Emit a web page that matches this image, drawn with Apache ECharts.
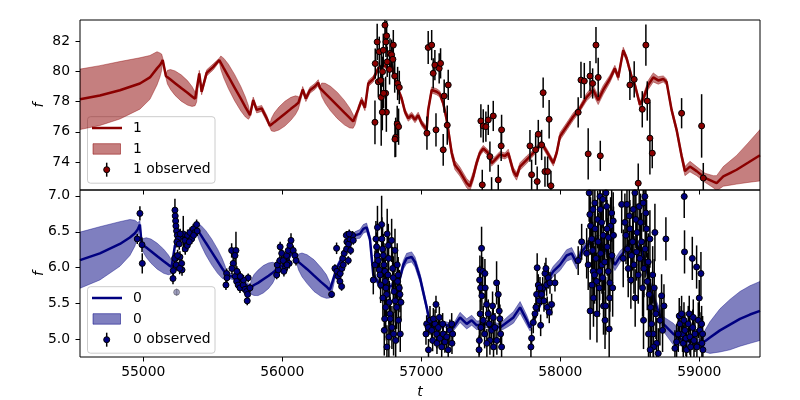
<!DOCTYPE html>
<html><head><meta charset="utf-8">
<script src="https://cdn.jsdelivr.net/npm/echarts@6/dist/echarts.min.js"></script>
<style>html,body{margin:0;padding:0;background:#fff}#c{width:800px;height:400px}</style>
</head><body><div id="c"></div>
<script>
// ---------- channel "1" (top panel): GP mean [t, mean, sd] ----------
const mean1 = [
[54545,78.15,2.0],[54688,78.4,1.98],[54832,78.75,1.9],[54976,79.2,1.7],[55048,79.6,1.45],[55099,80.2,1.1],[55120,80.42,0.8],[55132,80.6,0.55],[55140,80.75,0.15],
[55163,79.7,0.12],[55174,79.62,0.45],[55196,79.46,0.66],[55229,79.22,0.81],[55273,78.9,0.87],[55318,78.58,0.81],[55351,78.34,0.66],[55373,78.18,0.45],
[55384,78.1,0.12],[55403,79.87,0.2],[55420,78.65,0.2],[55456,79.9,0.2],[55504,80.3,0.2],
[55547,80.75,0.12],[55558,80.57,0.45],[55580,80.2,0.66],[55613,79.66,0.81],[55657,78.93,0.87],[55702,78.19,0.81],[55735,77.64,0.66],[55757,77.28,0.45],
[55768,77.1,0.12],[55791,78.1,0.2],[55816,77.45,0.2],[55852,77.55,0.2],[55888,76.9,0.2],
[55911,76.4,0.12],[55922,76.48,0.42],[55943,76.64,0.62],[55976,76.88,0.76],[56019,77.2,0.82],[56062,77.52,0.76],[56095,77.76,0.62],[56116,77.92,0.42],
[56127,78.0,0.12],[56147,78.8,0.2],[56170,78.2,0.2],[56199,78.75,0.2],[56235,79.0,0.2],[56259,79.25,0.2],
[56271,78.9,0.12],[56284,78.78,0.45],[56309,78.55,0.66],[56347,78.2,0.81],[56397,77.74,0.87],[56447,77.27,0.81],[56485,76.92,0.66],[56510,76.69,0.45],
[56523,76.57,0.12],[56547,77.5,0.2],[56571,78.1,0.2],[56595,77.6,0.2],[56619,79.2,0.2],[56655,79.5,0.2],[56691,80.2,0.15],[56715,80.3,0.15],
[56739,80.4,0.15],[56763,80.1,0.15],[56787,80.5,0.15],[56811,79.5,0.2],[56834,78.77,0.2],[56859,78.2,0.2],[56883,77.33,0.2],[56906,76.9,0.2],
[56931,77.1,0.2],[56955,76.8,0.2],[56978,77.1,0.2],[57003,76.57,0.2],[57039,76.13,0.2],[57050,77.45,0.2],[57075,78.77,0.2],[57111,78.65,0.2],
[57134,78.5,0.2],[57158,77.9,0.2],[57183,76.8,0.25],[57219,74.6,0.3],[57242,73.8,0.3],[57278,73.37,0.3],[57327,72.6,0.3],[57350,72.4,0.3],
[57374,73.05,0.3],[57398,73.93,0.25],[57422,74.6,0.2],[57446,74.9,0.2],[57482,74.6,0.2],[57506,73.93,0.2],[57530,74.15,0.2],[57566,74.5,0.2],
[57602,74.4,0.2],[57626,74.6,0.25],[57662,73.4,0.25],[57686,73.05,0.25],[57710,73.7,0.25],[57758,74.15,0.25],[57806,74.6,0.2],[57866,75.25,0.2],
[57902,74.7,0.2],[57950,73.93,0.2],[57974,74.6,0.2],[57998,75.7,0.25],[58046,76.35,0.25],[58093,77.0,0.25],[58142,77.55,0.2],[58190,78.3,0.25],
[58237,78.77,0.3],[58273,78.1,0.3],[58309,78.77,0.3],[58357,79.5,0.25],[58393,80.2,0.2],[58417,79.6,0.2],[58453,81.4,0.2],[58478,80.85,0.2],
[58514,79.6,0.2],[58537,79.1,0.2],[58573,77.8,0.2],[58597,78.2,0.25],[58633,79.1,0.3],[58669,79.6,0.3],[58705,79.4,0.25],[58741,79.5,0.2],
[58765,79.3,0.2],[58801,77.45,0.2],[58837,76.13,0.2],[58873,74.4,0.25],[58897,73.4,0.3],[58933,73.7,0.35],[58981,73.4,0.3],[59041,72.96,0.3],
[59101,72.7,0.4],[59125,72.6,0.5],[59173,73.05,0.65],[59221,73.27,0.8],[59269,73.49,0.95],[59350,73.95,1.3],[59437,74.45,1.7]
];
// observed "1" [t, f, err]
const obs1 = [
[56667,76.63,1.45],[56683,81.95,1.2],[56698,81.3,1.0],[56712,78.28,3.2],[56722,79.98,1.0],[56727,81.4,1.1],[56739,83.06,1.2],[56746,81.95,1.0],
[56751,82.35,1.0],[56755,80.63,1.0],[56744,78.55,1.1],[56749,77.3,1.3],[56720,77.3,1.2],[56775,81.19,1.0],[56787,81.1,1.0],[56799,81.74,1.0],
[56796,80.8,1.1],[56772,80.13,1.0],[56809,79.69,1.1],[56830,79.2,1.1],[56842,78.94,1.1],[56827,76.52,1.2],[56837,76.34,1.2],[56816,75.64,1.3],
[56811,75.51,1.2],[56691,79.31,1.0],[56708,79.4,1.0],[56669,80.52,1.0],[56729,78.55,1.0],
[57050,81.58,1.1],[57075,81.74,1.0],[57098,80.42,1.0],[57086,79.87,1.0],[57129,80.2,1.0],[57139,80.53,1.0],[57194,79.1,1.0],[57165,78.37,1.1],
[57106,76.13,1.1],[57041,75.91,1.1],[57158,74.81,1.05],[57187,76.44,1.3],
[57429,76.72,1.1],[57446,76.39,1.1],[57465,76.34,1.0],[57482,76.79,1.0],[57518,77.05,1.0],[57578,76.13,1.0],[57575,75.07,1.0],[57494,74.36,1.0],
[57439,72.49,1.0],[57554,72.82,1.0],[57506,71.9,1.1],
[57782,75.07,1.05],[57794,73.16,1.0],[57834,72.71,1.0],[57842,75.84,0.95],[57823,74.81,1.0],[57866,75.13,1.0],[57890,73.37,1.0],[57909,73.37,1.0],
[57933,72.43,1.0],[57877,78.59,1.0],[57920,76.83,1.27],
[58129,77.29,1.0],[58149,79.43,1.2],[58173,79.36,1.2],[58201,74.54,1.7],[58214,79.69,1.0],[58233,79.2,1.0],[58257,81.74,1.2],[58273,79.6,1.3],
[58288,74.41,1.0],
[58501,79.1,1.0],[58532,79.47,1.2],[58561,72.6,1.3],[58590,77.49,1.2],[58616,81.74,1.37],[58626,78.04,1.3],[58645,75.58,2.4],[58662,74.59,1.0],
[58873,77.23,1.0],[59017,76.39,2.1],[59029,72.94,1.0]
];

// ---------- channel "0" (bottom panel): GP mean [t, mean, sd] ----------
const mean0 = [
[54545,6.105,0.39],[54688,6.2,0.37],[54832,6.33,0.31],[54904,6.42,0.25],[54940,6.48,0.18],[54960,6.53,0.1],[54976,6.6,0.05],
[54988,6.33,0.04],[55000,6.31,0.095],[55022,6.28,0.137],[55056,6.23,0.168],[55101,6.16,0.18],[55147,6.09,0.168],[55181,6.04,0.137],[55204,6.01,0.095],
[55215,5.99,0.04],[55228,6.31,0.04],[55264,6.4,0.04],[55336,6.45,0.04],
[55384,6.54,0.04],[55395,6.51,0.095],[55416,6.45,0.137],[55449,6.35,0.168],[55492,6.22,0.18],[55535,6.09,0.168],[55568,5.99,0.137],[55589,5.93,0.095],
[55600,5.9,0.04],[55672,5.86,0.04],
[55768,5.72,0.04],[55778,5.73,0.1],[55797,5.76,0.145],[55826,5.79,0.177],[55864,5.84,0.19],[55902,5.89,0.177],[55931,5.93,0.145],[55950,5.96,0.1],
[55960,5.97,0.04],[56032,6.08,0.04],[56079,6.26,0.04],
[56104,6.1,0.04],[56117,6.08,0.11],[56142,6.04,0.165],[56179,5.98,0.2],[56229,5.89,0.22],[56280,5.8,0.2],[56317,5.74,0.165],[56342,5.69,0.11],
[56355,5.67,0.04],
[56391,5.99,0.04],[56439,6.17,0.04],[56487,6.36,0.04],[56523,6.45,0.05],[56559,6.47,0.06],[56583,6.54,0.06],[56607,6.56,0.06],[56631,6.4,0.05],
[56655,5.9,0.04],[56703,5.76,0.04],[56751,5.72,0.04],[56799,5.76,0.04],[56847,5.86,0.05],[56871,6.04,0.06],[56895,6.13,0.07],[56931,6.15,0.07],
[56955,6.08,0.07],[56991,5.86,0.06],[57039,5.45,0.05],[57063,5.22,0.04],[57087,5.17,0.04],[57159,5.22,0.04],[57231,5.17,0.05],[57279,5.31,0.07],
[57327,5.22,0.07],[57363,5.27,0.07],[57399,5.2,0.06],[57471,5.22,0.05],[57567,5.17,0.05],[57615,5.24,0.07],[57663,5.31,0.08],[57711,5.45,0.08],
[57759,5.27,0.07],[57783,5.17,0.05],[57807,5.27,0.04],[57855,5.49,0.04],[57903,5.81,0.05],[57950,5.95,0.07],[57998,6.04,0.08],[58046,6.17,0.08],
[58082,6.2,0.08],[58118,6.06,0.08],[58154,6.22,0.06],[58190,6.31,0.05],[58262,6.4,0.05],[58357,6.17,0.06],[58393,6.04,0.08],[58429,6.15,0.08],
[58477,6.26,0.06],[58525,6.4,0.05],[58595,6.2,0.05],[58669,5.58,0.06],[58741,5.22,0.1],[58813,5.08,0.15],[58885,4.99,0.08],[59005,4.95,0.05],
[59041,4.98,0.15],[59077,5.03,0.22],[59149,5.13,0.3],[59221,5.21,0.35],[59293,5.29,0.38],[59365,5.35,0.4],[59437,5.4,0.41]
];
// observed "0" [t, f, err], by cluster
const obs0A = [[54976,6.755,0.1],[54957,6.4,0.07],[54991,6.32,0.1],[54993,6.06,0.14]];
const obs0B = [[55228,6.8,0.16],[55230,6.72,0.1],[55233,6.65,0.08],[55235,6.58,0.08],[55240,6.51,0.08],[55245,6.45,0.08],[55252,6.4,0.07],[55242,6.36,0.08],[55226,6.13,0.08],[55237,6.04,0.08],[55216,5.96,0.08],[55214,5.85,0.08],[55264,6.15,0.08],[55276,6.06,0.08],[55279,5.97,0.08],[55259,6.33,0.08],[55288,6.47,0.25],[55300,6.38,0.08],[55302,6.26,0.08],[55317,6.31,0.08],[55319,6.45,0.08],[55336,6.49,0.07],[55348,6.4,0.07],[55360,6.54,0.07],[55372,6.49,0.07],[55384,6.6,0.07],[55388,6.51,0.07],[55362,6.45,0.07],[55331,6.36,0.07],[55266,6.47,0.07],[55247,6.17,0.08],[55262,5.99,0.08]];
const obs0C = [[55600,5.92,0.07],[55595,5.76,0.07],[55602,5.86,0.07],[55636,6.24,0.1],[55667,6.24,0.26],[55660,6.17,0.1],[55647,6.06,0.08],[55638,5.99,0.08],[55662,5.88,0.08],[55672,5.81,0.07],[55683,5.76,0.07],[55696,5.72,0.07],[55719,5.76,0.07],[55732,5.7,0.07],[55744,5.67,0.07],[55751,5.63,0.07],[55748,5.54,0.06],[55755,5.86,0.06],[55721,5.83,0.07],[55698,5.88,0.07],[55674,5.95,0.07],[55768,5.72,0.06]];
const obs0D = [[55960,5.9,0.06],[55971,5.97,0.07],[55964,6.04,0.07],[55983,6.1,0.07],[55985,6.29,0.07],[55996,6.2,0.07],[56007,6.1,0.07],[56019,5.99,0.07],[56032,6.17,0.07],[56043,6.24,0.07],[56055,6.31,0.07],[56063,6.38,0.1],[56050,6.06,0.07],[56079,6.24,0.07],[56091,6.17,0.07],[56099,6.1,0.07],[56012,5.95,0.07],[56034,6.04,0.07]];
const obs0E = [[56355,5.63,0.05],[56391,6.27,0.08],[56379,5.99,0.06],[56393,5.95,0.06],[56403,5.88,0.06],[56415,5.81,0.06],[56427,5.74,0.06],[56417,5.92,0.06],[56429,5.99,0.06],[56439,6.04,0.06],[56435,6.13,0.06],[56446,6.2,0.06],[56463,6.26,0.06],[56475,6.1,0.06],[56465,6.36,0.06],[56477,6.33,0.06],[56487,6.4,0.06],[56492,6.24,0.06],[56506,6.45,0.06],[56511,6.38,0.06],[56461,6.45,0.06],[56482,6.47,0.06]];
const obs0F = [[56655,5.83,0.2],[56667,6.04,0.2],[56674,6.4,0.25],[56679,6.29,0.2],[56683,6.17,0.2],[56691,6.1,0.2],[56698,5.97,0.2],[56703,5.9,0.2],[56715,6.6,0.4],[56717,6.4,0.3],[56722,6.26,0.3],[56727,6.17,0.3],[56732,6.04,0.3],[56739,5.95,0.3],[56741,5.81,0.3],[56746,5.72,0.3],[56751,5.63,0.3],[56755,6.47,0.35],[56763,6.31,0.3],[56765,6.13,0.3],[56761,5.9,0.3],[56770,5.52,0.3],[56775,5.36,0.3],[56734,5.13,0.35],[56767,5.04,0.35],[56777,5.29,0.3],[56787,6.38,0.3],[56794,5.99,0.3],[56799,5.86,0.3],[56804,5.67,0.3],[56811,6.24,0.3],[56813,5.54,0.3],[56816,4.99,0.3],[56823,5.45,0.3],[56827,6.04,0.3],[56830,5.81,0.3],[56834,5.9,0.25],[56836,5.27,0.3],[56842,5.72,0.25],[56847,5.63,0.25],[56854,5.52,0.25],[56737,5.29,0.3],[56744,5.45,0.3],[56753,4.9,0.3],[56789,5.17,0.3],[56801,5.08,0.3],[56724,5.58,0.3],[56708,5.76,0.25],[56849,5.08,0.25],[56685,6.56,0.3]];
const obs0G = [[57039,5.22,0.12],[57034,5.08,0.15],[57050,5.17,0.12],[57052,4.86,0.15],[57063,5.27,0.2],[57075,5.13,0.15],[57082,4.99,0.15],[57099,5.22,0.2],[57106,5.49,0.12],[57111,5.08,0.2],[57113,4.95,0.15],[57123,5.17,0.15],[57134,5.02,0.15],[57147,4.9,0.15],[57158,5.08,0.15],[57170,4.97,0.15],[57183,5.04,0.15],[57194,4.86,0.15],[57206,5.13,0.15],[57219,5.22,0.15],[57226,5.08,0.15],[57221,4.95,0.15],[57087,5.29,0.15],[57130,5.31,0.15],[57154,5.22,0.15]];
const obs0H = [[57434,6.27,0.3],[57422,5.97,0.2],[57420,5.83,0.2],[57427,5.72,0.2],[57436,5.61,0.2],[57442,5.95,0.2],[57458,5.92,0.2],[57460,5.72,0.2],[57424,5.36,0.2],[57429,5.17,0.2],[57418,4.99,0.2],[57416,4.86,0.2],[57446,5.27,0.2],[57456,5.08,0.2],[57470,5.49,0.2],[57482,5.36,0.2],[57489,5.22,0.2],[57494,4.99,0.2],[57506,5.13,0.2],[57518,5.31,0.2],[57530,5.17,0.2],[57542,5.79,0.3],[57554,5.63,0.2],[57561,5.4,0.2],[57566,5.29,0.2],[57571,5.08,0.2],[57578,4.9,0.2],[57544,4.99,0.2],[57520,4.9,0.2],[57472,4.95,0.2],[57513,5.47,0.2]];
const obs0I = [[57794,5.02,0.15],[57789,4.9,0.15],[57806,5.24,0.15],[57818,5.36,0.15],[57825,5.45,0.15],[57830,5.63,0.15],[57834,6.0,0.2],[57842,5.76,0.15],[57849,5.54,0.15],[57859,5.2,0.15],[57866,5.63,0.15],[57874,5.72,0.15],[57883,5.54,0.15],[57890,5.92,0.15],[57897,5.99,0.15],[57902,5.76,0.15],[57906,5.45,0.15],[57914,5.86,0.15],[57921,5.38,0.15],[57926,5.79,0.15],[57938,5.49,0.15],[57962,5.79,0.12],[57854,5.72,0.15]];
const obs0J = [[58129,6.1,0.2],[58154,6.36,0.25],[58190,6.2,0.35],[58201,6.04,0.35],[58208,7.04,0.4],[58213,6.74,0.4],[58215,5.4,0.4],[58218,6.58,0.4],[58226,6.4,0.4],[58233,6.24,0.4],[58237,5.95,0.4],[58239,5.58,0.4],[58249,6.9,0.4],[58251,6.54,0.4],[58257,6.13,0.4],[58262,5.81,0.4],[58269,6.67,0.4],[58273,6.36,0.4],[58281,5.72,0.4],[58286,6.99,0.4],[58288,6.81,0.4],[58291,6.2,0.4],[58298,6.63,0.4],[58300,6.04,0.4],[58305,5.86,0.4],[58309,6.45,0.4],[58311,5.47,0.4],[58322,5.27,0.4],[58329,7.04,0.4],[58334,6.85,0.4],[58338,6.29,0.4],[58345,5.95,0.4],[58352,5.15,0.4],[58357,5.79,0.4],[58362,6.58,0.4],[58370,6.76,0.4],[58372,6.17,0.4],[58377,5.72,0.4],[58381,6.65,0.4],[58327,5.47,0.4],[58228,5.76,0.4],[58264,5.36,0.4],[58336,6.54,0.4],[58347,6.42,0.4],[58247,5.9,0.4],[58307,6.95,0.4],[58235,6.81,0.4],[58283,5.95,0.4],[58320,6.08,0.4],[58355,5.58,0.4],[58383,6.45,0.4]];
const obs0K = [[58442,6.88,0.4],[58453,6.13,0.4],[58465,6.63,0.4],[58473,6.45,0.4],[58480,6.88,0.4],[58485,6.26,0.4],[58489,5.99,0.4],[58497,6.72,0.4],[58501,6.54,0.4],[58508,5.83,0.4],[58513,6.17,0.4],[58521,6.36,0.4],[58525,6.81,0.4],[58530,6.04,0.4],[58537,7.04,0.4],[58539,5.58,0.4],[58544,6.67,0.4],[58549,6.22,0.4],[58553,6.49,0.4],[58561,5.9,0.4],[58568,6.85,0.4],[58573,6.13,0.4],[58578,6.63,0.4],[58585,6.36,0.4],[58592,5.72,0.4],[58597,6.9,0.4],[58599,5.27,0.4],[58602,5.99,0.4],[58609,6.99,0.4],[58611,6.26,0.4],[58616,6.76,0.4],[58621,6.54,0.4],[58626,5.81,0.4],[58633,6.08,0.4],[58640,5.63,0.4],[58645,6.4,0.4],[58650,5.45,0.4],[58657,5.22,0.4],[58665,5.9,0.4],[58669,5.08,0.4],[58676,5.72,0.4],[58681,6.49,0.4],[58688,5.36,0.35],[58693,4.95,0.35],[58717,5.27,0.35],[58729,5.61,0.3],[58736,5.13,0.3],[58746,5.47,0.3],[58760,6.4,0.3],[58705,4.81,0.35],[58671,4.9,0.35],[58647,4.86,0.35],[58635,5.08,0.35]];
const obs0L = [[58892,6.99,0.3],[58894,6.22,0.3],[58950,6.13,0.3],[58981,6.01,0.3],[59012,5.92,0.3],[59000,5.58,0.25],[58856,5.33,0.25],[58861,5.22,0.25],[58873,5.36,0.25],[58880,5.08,0.25],[58885,4.95,0.25],[58890,5.27,0.25],[58897,5.13,0.25],[58904,5.02,0.25],[58909,4.86,0.25],[58921,5.22,0.25],[58928,5.36,0.25],[58933,5.04,0.25],[58938,4.9,0.25],[58953,5.17,0.25],[58957,5.31,0.25],[58962,4.99,0.25],[58969,5.08,0.25],[58983,4.9,0.25],[58993,5.27,0.25],[59005,5.13,0.25],[59017,5.22,0.25],[59019,4.95,0.25],[59024,5.08,0.25],[59026,4.86,0.25],[58837,4.97,0.25],[58825,4.88,0.25],[58849,5.08,0.25]];
// masked (faded) observation
const obs0Masked = [[55240,5.66,0.05]];

// axis ranges and ticks
const tRange = [54545, 59437];
const f1Range = [72.15, 83.4];
const f0Range = [4.76, 7.08];
const xTicks = [55000, 56000, 57000, 58000, 59000];
const yTicks1 = [74, 76, 78, 80, 82];
const yTicks0 = [5.0, 5.5, 6.0, 6.5, 7.0];

// ---------------------------------------------------------------
const RED = '#8B0000', RED_BAND = 'rgba(139,0,0,0.5)';
const NAVY = '#000080', NAVY_BAND = 'rgba(0,0,128,0.5)';
const FONT = '"DejaVu Sans", sans-serif';
const FS = 13.9;
const obs0 = [].concat(obs0A, obs0B, obs0C, obs0D, obs0E, obs0F, obs0G, obs0H, obs0I, obs0J, obs0K, obs0L);

// confidence band: one polygon built from the mean rows through the axis scales
function bandSeries(mean, idx, color) {
  return {type:'custom', xAxisIndex:idx, yAxisIndex:idx, clip:true, silent:true, z:1,
    data: mean.map(r => [r[0], r[1] - r[2], r[1] + r[2]]), encode:{x:0, y:[1, 2]},
    renderItem: function(params, api) {
      if (params.dataIndex !== 0) return null;
      const upper = mean.map(r => api.coord([r[0], r[1] + r[2]]));
      const lower = mean.map(r => api.coord([r[0], r[1] - r[2]])).reverse();
      return {type:'polygon', shape:{points: upper.concat(lower), smooth:0},
        style:{fill:color, stroke:color, lineWidth:0.8}};
    }};
}
function meanSeries(mean, idx, color) {
  return {type:'line', xAxisIndex:idx, yAxisIndex:idx, data:mean.map(r => [r[0], r[1]]), symbol:'none',
    lineStyle:{width:2.5, color:color}, z:2, silent:true};
}
function errSeries(obs, idx, stroke) {
  return {type:'custom', xAxisIndex:idx, yAxisIndex:idx, clip:true, silent:true, z:3,
    data: obs, encode:{x:0, y:1},
    renderItem: function(params, api) {
      const t = api.value(0), f = api.value(1), e = api.value(2);
      const p1 = api.coord([t, f - e]), p2 = api.coord([t, f + e]);
      return {type:'line', shape:{x1:p1[0], y1:p1[1], x2:p2[0], y2:p2[1]}, style:{stroke:stroke, lineWidth:1.5}};
    }};
}
function ptSeries(obs, idx, fill, border) {
  return {type:'scatter', xAxisIndex:idx, yAxisIndex:idx, data: obs.map(r => [r[0], r[1]]), symbol:'circle',
    symbolSize:6, clip:true, silent:true, z:4, itemStyle:{color:fill, borderColor:border, borderWidth:1, opacity:1}};
}

const tickStyle = {show:true, inside:false, length:4.5, lineStyle:{color:'#000', width:1}};
const labelStyle = {fontSize:FS, fontFamily:FONT, color:'#000'};
const nameStyle = {fontSize:FS, fontFamily:FONT, fontStyle:'italic', color:'#000'};

function legendGroup(top, label, color, band) {
  const txt = (s, y) => ({type:'text', x:133, y:y, style:{text:s, font:FS + 'px ' + FONT, fill:'#000', verticalAlign:'middle', align:'left'}});
  return {type:'group', z:100, children:[
    {type:'rect', shape:{x:87.5, y:top, width:127.5, height:66.5, r:3}, style:{fill:'rgba(255,255,255,0.8)', stroke:'#cccccc', lineWidth:1}},
    {type:'line', shape:{x1:92, y1:top+11.3, x2:122, y2:top+11.3}, style:{stroke:color, lineWidth:2.5}},
    txt(label, top+11.3),
    {type:'rect', shape:{x:93, y:top+27, width:27.5, height:10.5}, style:{fill:band, stroke:band, lineWidth:1}},
    txt(label, top+32.5),
    {type:'line', shape:{x1:106.7, y1:top+46, x2:106.7, y2:top+60}, style:{stroke:'#000', lineWidth:1.5}},
    {type:'circle', shape:{cx:106.7, cy:top+53, r:3}, style:{fill:color, stroke:'#000', lineWidth:1}},
    txt(label + ' observed', top+53)
  ]};
}

const chart = echarts.init(document.getElementById('c'), null, {renderer:'canvas'});
chart.setOption({
  animation:false,
  backgroundColor:'#fff',
  grid:[
    {left:80, top:20, width:680, height:170, show:true, borderColor:'#000', borderWidth:1, backgroundColor:'transparent', z:10},
    {left:80, top:190, width:680, height:170, show:true, borderColor:'#000', borderWidth:1, backgroundColor:'transparent', z:10}
  ],
  xAxis:[
    {gridIndex:0, type:'value', min:tRange[0], max:tRange[1], axisLine:{show:false}, splitLine:{show:false},
     axisTick:Object.assign({customValues:xTicks}, tickStyle), axisLabel:{show:false}},
    {gridIndex:1, type:'value', min:tRange[0], max:tRange[1], axisLine:{show:false}, splitLine:{show:false},
     axisTick:Object.assign({customValues:xTicks}, tickStyle),
     axisLabel:Object.assign({customValues:xTicks, margin:8, formatter:v => String(v)}, labelStyle),
     name:'t', nameLocation:'middle', nameGap:28, nameMoveOverlap:false, nameTextStyle:nameStyle}
  ],
  yAxis:[
    {gridIndex:0, type:'value', min:f1Range[0], max:f1Range[1], axisLine:{show:false}, splitLine:{show:false},
     axisTick:Object.assign({customValues:yTicks1}, tickStyle),
     axisLabel:Object.assign({customValues:yTicks1, margin:10, formatter:v => String(Math.round(v))}, labelStyle),
     name:'f', nameLocation:'middle', nameGap:34, nameRotate:90, nameMoveOverlap:false, nameTextStyle:nameStyle},
    {gridIndex:1, type:'value', min:f0Range[0], max:f0Range[1], axisLine:{show:false}, splitLine:{show:false},
     axisTick:Object.assign({customValues:yTicks0}, tickStyle),
     axisLabel:Object.assign({customValues:yTicks0, margin:10, formatter:v => v.toFixed(1)}, labelStyle),
     name:'f', nameLocation:'middle', nameGap:34, nameRotate:90, nameMoveOverlap:false, nameTextStyle:nameStyle}
  ],
  series:[
    bandSeries(mean1, 0, RED_BAND),
    meanSeries(mean1, 0, RED),
    errSeries(obs1, 0, '#000'),
    ptSeries(obs1, 0, RED, '#000'),
    bandSeries(mean0, 1, NAVY_BAND),
    meanSeries(mean0, 1, NAVY),
    errSeries(obs0Masked, 1, 'rgba(0,0,0,0.3)'),
    ptSeries(obs0Masked, 1, 'rgba(70,70,130,0.5)', 'rgba(0,0,0,0.3)'),
    errSeries(obs0, 1, '#000'),
    ptSeries(obs0, 1, NAVY, '#000')
  ],
  graphic: [
    legendGroup(116.7, '1', RED, RED_BAND),
    legendGroup(286.7, '0', NAVY, NAVY_BAND)
  ]
});
</script>
</body></html>
